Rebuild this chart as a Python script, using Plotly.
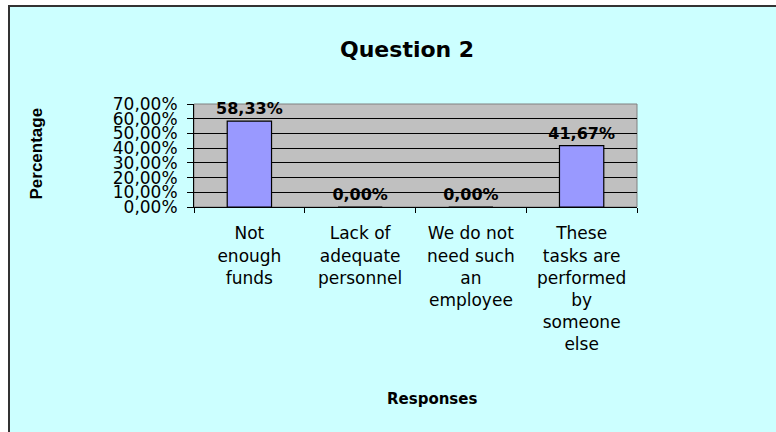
import plotly.graph_objects as go

# Survey data - Question 2
categories = ["Not enough funds", "Lack of adequate personnel",
              "We do not need such an employee",
              "These tasks are performed by someone else"]
tick_labels = ["Not<br>enough<br>funds", "Lack of<br>adequate<br>personnel",
               "We do not<br>need such<br>an<br>employee",
               "These<br>tasks are<br>performed<br>by<br>someone<br>else"]
percentages = [0.5833, 0.0, 0.0, 0.4167]
y_ticks = [0.0, 0.1, 0.2, 0.3, 0.4, 0.5, 0.6, 0.7]

W, H = 776, 432
L, R, T, B = 194, 139, 104, 225
PW, PH = W - L - R, H - T - B
FONT = "DejaVu Sans"


def px_x(x):
    return (x - L) / PW


def px_y(y):
    return (H - B - y) / PH


fig = go.Figure()
fig.add_trace(go.Bar(
    x=categories,
    y=percentages,
    width=0.4,
    marker=dict(color="#9999FF", line=dict(color="black", width=1.2)),
    texttemplate="%{y:.2%}",
    textposition="outside",
    constraintext="none",
    cliponaxis=False,
    textfont=dict(family=FONT, size=16, color="black", weight="bold"),
))

fig.update_layout(
    width=W, height=H,
    margin=dict(l=L, r=R, t=T, b=B),
    paper_bgcolor="#CCFFFF",
    plot_bgcolor="#C0C0C0",
    separators=", ",
    showlegend=False,
    font=dict(family=FONT, color="black"),
    xaxis=dict(
        tickvals=categories,
        ticktext=tick_labels,
        tickson="boundaries",
        ticks="outside", ticklen=5, tickcolor="black",
        showline=True, linecolor="black", linewidth=1,
        showgrid=False,
        tickfont=dict(family=FONT, size=17),
        ticklabelstandoff=11,
        fixedrange=True,
    ),
    yaxis=dict(
        range=[0, 0.7],
        tickvals=y_ticks,
        tickformat=".2%",
        ticks="outside", ticklen=6, tickcolor="black",
        showline=True, linecolor="black", linewidth=1,
        showgrid=True, gridcolor="black", gridwidth=1,
        tickfont=dict(family=FONT, size=17),
        ticklabelstandoff=6,
        zeroline=False,
    ),
    shapes=[
        # gray outline of the plot area (top and right)
        dict(type="rect", xref="paper", yref="paper", x0=0, x1=1, y0=0, y1=1,
             line=dict(color="#808080", width=1), layer="below"),
        # white page outside the chart frame
        dict(type="rect", xref="paper", yref="paper",
             x0=px_x(-5), x1=px_x(9), y0=px_y(440), y1=px_y(-5),
             fillcolor="white", line=dict(width=0)),
        dict(type="rect", xref="paper", yref="paper",
             x0=px_x(-5), x1=px_x(790), y0=px_y(6), y1=px_y(-5),
             fillcolor="white", line=dict(width=0)),
        # chart frame
        dict(type="rect", xref="paper", yref="paper",
             x0=px_x(9), x1=px_x(800), y0=px_y(450), y1=px_y(6),
             line=dict(color="#333333", width=2)),
    ],
    annotations=[
        dict(text="<b>Question 2</b>", xref="paper", yref="paper",
             x=px_x(407), y=px_y(35), showarrow=False,
             font=dict(family=FONT, size=22, color="black")),
        dict(text="<b>Responses</b>", xref="paper", yref="paper",
             x=px_x(432), y=px_y(410), showarrow=False,
             font=dict(family=FONT, size=15, color="black")),
        dict(text="<b>Percentage</b>", xref="paper", yref="paper",
             x=px_x(24), y=px_y(154), showarrow=False, textangle=-90,
             font=dict(family="Liberation Sans", size=17, color="black")),
    ],
)

fig.write_html("out.html", config={"displayModeBar": False},
               post_script="document.body.style.margin='0';")
